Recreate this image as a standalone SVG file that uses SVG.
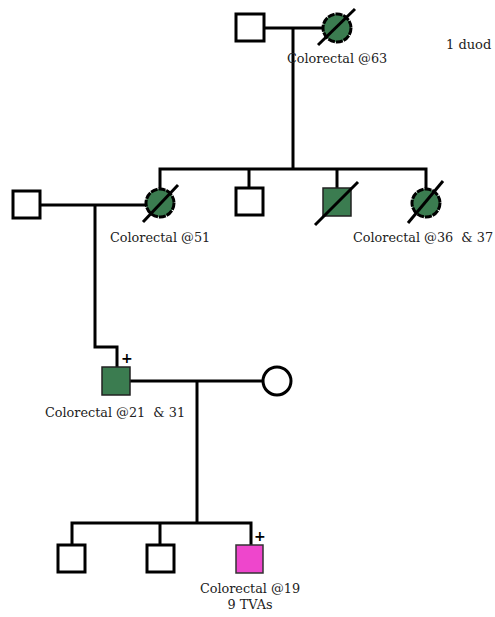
<svg xmlns="http://www.w3.org/2000/svg" width="495" height="617" viewBox="0 0 495 617">
<style>
.ln{stroke:#000;stroke-width:3;fill:none}
.m{fill:#fff;stroke:#000;stroke-width:3}
.f{fill:#fff;stroke:#000;stroke-width:3}
.aff{fill:#3b7c50;stroke:#222;stroke-width:1.5}
.affc{fill:#3b7c50;stroke:#000;stroke-width:3;stroke-dasharray:7 1}
.pink{fill:#ee46cc;stroke:#333;stroke-width:1.5}
.sl{stroke:#000;stroke-width:3}
.t{font-family:"DejaVu Serif","Liberation Serif",serif;font-size:12.8px;fill:#222;white-space:pre}
.pl{font-family:"DejaVu Sans",sans-serif;font-size:14px;font-weight:bold;fill:#000}
</style>
<g id="connectors">
<path class="ln" d="M264 28H322"/>
<path class="ln" d="M293 28V169"/>
<path class="ln" d="M160 188V169H426V188"/>
<path class="ln" d="M249 169V188"/>
<path class="ln" d="M337 169V188"/>
<path class="ln" d="M40 205H146"/>
<path class="ln" d="M95 205V347H117V367"/>
<path class="ln" d="M130 381H263"/>
<path class="ln" d="M197 381V523"/>
<path class="ln" d="M72 545V523H251V545"/>
<path class="ln" d="M160 523V545"/>
</g>
<g id="gf-father"><rect class="m" x="236" y="14" width="28" height="27"/></g>
<g id="gm-mother"><circle class="affc" cx="337" cy="28" r="14"/><line class="sl" x1="318" y1="45" x2="355" y2="9"/><text class="t" x="287" y="63">Colorectal @63</text></g>
<g id="spouse-left"><rect class="m" x="13" y="191" width="27" height="27"/></g>
<g id="mother"><circle class="affc" cx="160" cy="203" r="14"/><line class="sl" x1="143" y1="222" x2="178" y2="185"/><text class="t" x="110" y="242">Colorectal @51</text></g>
<g id="uncle1"><rect class="m" x="236" y="188" width="27" height="27"/></g>
<g id="uncle2"><rect class="aff" x="323" y="188" width="28" height="28"/><line class="sl" x1="315" y1="225" x2="358" y2="182"/></g>
<g id="aunt"><circle class="affc" cx="426" cy="203" r="14"/><line class="sl" x1="408" y1="223" x2="443" y2="181"/><text class="t" x="353" y="242" xml:space="preserve">Colorectal @36  &amp; 37</text></g>
<g id="proband-father"><rect class="aff" x="102" y="367" width="28" height="28"/><text class="pl" x="121" y="363">+</text><text class="t" x="45" y="417" xml:space="preserve">Colorectal @21  &amp; 31</text></g>
<g id="proband-mother"><circle class="f" cx="277" cy="381" r="14"/></g>
<g id="child1"><rect class="m" x="58" y="545" width="27" height="27"/></g>
<g id="child2"><rect class="m" x="147" y="545" width="27" height="27"/></g>
<g id="child3"><rect class="pink" x="236" y="545" width="27" height="28"/><text class="pl" x="254" y="541">+</text><text class="t" x="250" y="593" text-anchor="middle">Colorectal @19</text><text class="t" x="250" y="609" text-anchor="middle">9 TVAs</text></g>
<g id="side-note"><text class="t" x="446" y="49" style="font-size:13px">1 duod</text></g>
</svg>
